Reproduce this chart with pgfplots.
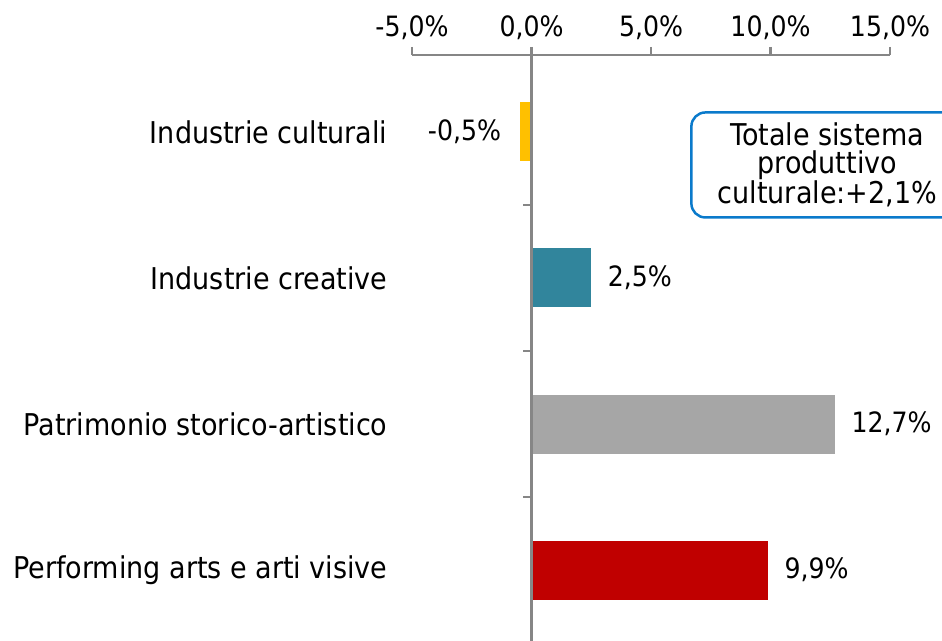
\documentclass[border=0pt]{standalone}
\usepackage{fontspec}
\setmainfont{DejaVu Sans Condensed}
\usepackage{pgfplots}
\pgfplotsset{compat=1.18}
\definecolor{cyel}{HTML}{FFC000}
\definecolor{cteal}{HTML}{31859C}
\definecolor{cgray}{HTML}{A6A6A6}
\definecolor{cred}{HTML}{C00000}
\definecolor{caxis}{HTML}{868686}
\definecolor{cbox}{HTML}{0A7ACB}
\newcommand{\fnum}{\fontsize{28}{32}\selectfont}
\newcommand{\ftxt}{\fontsize{30}{28}\selectfont}
\begin{document}
\begin{tikzpicture}[x=1pt,y=1pt]
\begin{axis}[
  name=ax,
  scale only axis,
  width=478pt, height=586pt,
  xmin=-5, xmax=15,
  ymin=-0.527, ymax=3.486,
  y dir=reverse,
  axis x line*=top,
  axis y line=none,
  x axis line style={draw=caxis, line width=2.5pt, -},
  xtick={-5,0,5,10,15},
  tick align=outside,
  major tick length=8pt,
  xtick style={draw=caxis, line width=2.5pt},
  xticklabel={\pgfmathprintnumber{\tick}\%},
  xticklabel style={font=\fnum, yshift=4pt},
  /pgf/number format/.cd, fixed, fixed zerofill, precision=1, use comma, assume math mode=true,
  /pgfplots/.cd,
  xbar, bar shift=0pt, bar width=59pt,
  nodes near coords={\pgfmathprintnumber{\pgfplotspointmeta}\%},
  every node near coord/.append style={font=\fnum, text=black},
  clip=false,
]
\addplot[draw=none, fill=cyel, nodes near coords style={anchor=east, xshift=-15pt}] coordinates {(-0.5,0)};
\addplot[draw=none, fill=cteal, nodes near coords style={anchor=west, xshift=13pt}] coordinates {(2.5,1)};
\addplot[draw=none, fill=cgray, nodes near coords style={anchor=west, xshift=13pt}] coordinates {(12.7,2)};
\addplot[draw=none, fill=cred, nodes near coords style={anchor=west, xshift=13pt}] coordinates {(9.9,3)};
\draw[caxis, line width=2.5pt] (axis cs:0,-0.527) -- (axis cs:0,3.486);
\draw[caxis, line width=2.5pt] (axis cs:0,0.5) -- ++(-8pt,0pt);
\draw[caxis, line width=2.5pt] (axis cs:0,1.5) -- ++(-8pt,0pt);
\draw[caxis, line width=2.5pt] (axis cs:0,2.5) -- ++(-8pt,0pt);
\node[font=\ftxt, anchor=east] at (axis cs:-5,0) [xshift=-21pt] {Industrie culturali};
\node[font=\ftxt, anchor=east] at (axis cs:-5,1) [xshift=-21pt] {Industrie creative};
\node[font=\ftxt, anchor=east] at (axis cs:-5,2) [xshift=-21pt] {Patrimonio storico-artistico};
\node[font=\ftxt, anchor=east] at (axis cs:-5,3) [xshift=-21pt] {Performing arts e arti visive};
\node[draw=cbox, line width=2.5pt, rounded corners=14pt, align=center, font=\ftxt,
  minimum width=272pt, minimum height=105pt, inner sep=0pt] at (axis cs:12.38,0.226) {Totale sistema\\produttivo\\culturale:+2,1\%};
\end{axis}
\pgfresetboundingbox
\useasboundingbox ([xshift=-412pt]ax.south west) rectangle ([xshift=52pt,yshift=55pt]ax.north east);
\end{tikzpicture}
\end{document}
